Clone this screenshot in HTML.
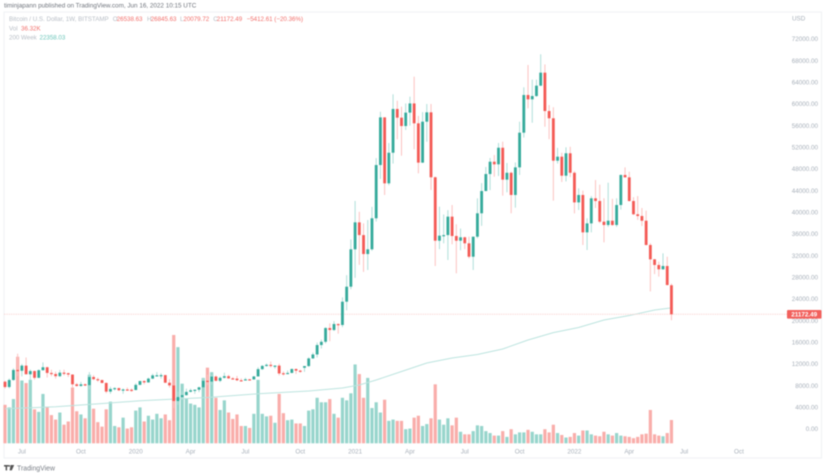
<!DOCTYPE html>
<html lang="en">
<head>
<meta charset="utf-8">
<title>BTC/USD weekly chart</title>
<style>
html,body{margin:0;padding:0;background:#fff;width:827px;height:474px;overflow:hidden}
svg{display:block;filter:blur(0.4px)}
text{font-family:"Liberation Sans",sans-serif}
.tick{font-size:6.3px;fill:#a8b0ba}
.lg{font-size:6.2px;fill:#b8bec6}
.rv{font-size:6.2px;fill:#f2706c}
</style>
</head>
<body>
<svg id="chart" width="827" height="474" viewBox="0 0 827 474" xmlns="http://www.w3.org/2000/svg">
  <rect x="4" y="12" width="817.5" height="446" fill="#fff" stroke="#f1f3f5" stroke-width="1.2"/>
  <g id="volumes"></g>
  <path id="sma" fill="none" stroke="#bce4df" stroke-width="1"/>
  <line id="lastLine" x1="4" x2="787" stroke="#fbd9d8" stroke-width="1" stroke-dasharray="1.5 0.8"/>
  <g id="candles"></g>
  <g id="priceAxis"></g>
  <g id="timeAxis"></g>
  <text class="tick" x="792" y="20.5">USD</text>
  <g>
    <rect id="lastTag" x="787" width="34.5" height="8.6" rx="1" fill="#f2605c"/>
    <text id="lastTagText" x="804.2" font-size="6.3" font-weight="bold" fill="#fff" text-anchor="middle"></text>
  </g>
  <text x="4" y="7.4" font-size="6.33" fill="#6f747c">timinjapann published on TradingView.com, Jun 16, 2022 10:15 UTC</text>
  <g>
    <text class="lg" x="9" y="20.8">Bitcoin / U.S. Dollar, 1W, BITSTAMP</text>
    <text class="lg" x="112.7" y="20.8">O</text><text class="rv" x="116.7" y="20.8">26538.63</text>
    <text class="lg" x="147" y="20.8">H</text><text class="rv" x="150.7" y="20.8">26845.63</text>
    <text class="lg" x="180" y="20.8">L</text><text class="rv" x="183.4" y="20.8">20079.72</text>
    <text class="lg" x="213.2" y="20.8">C</text><text class="rv" x="216.8" y="20.8">21172.49</text>
    <text class="rv" x="246.6" y="20.8">−5412.61 (−20.36%)</text>
    <text class="lg" x="9" y="30.5">Vol</text><text class="rv" x="21" y="30.5">36.32K</text>
    <text class="lg" x="9" y="39.5">200 Week</text><text x="39.5" y="39.5" font-size="6.2" fill="#6cc6ba">22358.03</text>
  </g>
  <g>
    <rect x="4" y="465" width="4.4" height="1.6" fill="#555"/>
    <rect x="5.6" y="465" width="1.5" height="5.4" fill="#555"/>
    <circle cx="9.2" cy="465.9" r="0.9" fill="#555"/>
    <polygon points="10.6,465 14.2,465 11.8,470.4 9.6,470.4" fill="#555"/>
    <text x="17" y="470.5" font-size="6.9" fill="#7a7f87">TradingView</text>
  </g>
</svg>
<script>
const opens=[8730,7750,9050,10900,10750,11700,10100,10700,9450,10850,11400,10350,10150,9750,10400,10300,10050,8250,7950,8250,8100,9600,9200,9030,8500,6900,7400,7550,7150,7300,7250,7200,8150,8850,8600,9300,9900,9920,9950,8540,8050,5170,5900,6250,6880,7150,7250,7700,8900,8750,9680,8900,9450,9750,9350,9300,9000,8990,9170,9150,9700,11050,11650,11850,11650,11700,10300,10220,10350,11070,10770,11300,11620,13030,13760,15500,16100,18640,18280,19380,19200,23500,26270,33170,38150,35800,32300,33170,38900,48730,57530,45350,51000,59080,57470,55930,58400,60100,56430,49170,56730,58460,46470,34760,35690,35800,39200,35630,34760,35390,34280,31800,35500,39820,43930,47070,49340,48860,51920,46030,47300,43200,48300,54700,61660,60860,61470,63380,65780,58700,57360,49530,50270,46760,50900,47300,41830,43200,36300,37960,42590,42090,38270,37660,38450,37660,41350,46890,46460,42090,39640,39320,38450,33970,31320,30280,29480,30090,26538.63];
const highs=[8900,9330,11200,13900,12000,13200,11000,10800,11000,12300,11500,10950,10600,10900,10950,10400,10100,8500,8700,8400,10500,9950,9500,9100,8600,7800,7700,7600,7500,7650,7500,8450,8900,9000,9500,10200,10500,10300,10000,9200,8200,6900,6950,7450,7450,7280,7800,9450,10050,9950,9900,9700,10400,10000,9580,9800,9350,9450,9250,9800,11400,11800,12100,12450,11750,12050,10650,10800,11180,11180,10950,11450,13250,14100,15960,16500,18800,19500,19900,19500,24300,28400,35000,42100,40100,37970,38580,41000,50000,58570,57530,52800,61790,60600,59500,60100,61350,65040,57800,58500,60000,60000,46600,41040,39600,40400,41350,37800,37000,35500,35500,35500,42580,45400,48370,50030,50580,52800,53040,49100,47500,49200,56730,63080,67200,64500,64500,69170,67300,59800,59400,51900,51000,52000,52100,47600,44430,44000,38900,43000,45960,45100,42600,45470,42500,42590,47000,48300,47500,42800,43000,40800,40300,34300,31400,30890,32430,31800,26845.63];
const lows=[7450,7500,8900,9800,9700,11000,9050,9100,9400,10800,9500,9750,9300,9600,9900,9600,7700,7800,7800,7900,7300,9000,8700,8450,6600,6500,7100,7000,6500,7100,6850,7150,8100,8250,8550,9200,9700,9300,8500,7650,3850,4450,5700,6150,6750,6500,6800,7600,8100,8150,8800,8650,9300,9250,9150,8850,8950,8950,9000,9100,9700,10900,11500,11350,11150,9900,9850,10150,10300,10150,10400,10550,11450,12950,13200,14850,15800,16200,18100,17600,18800,21900,25800,27900,30300,29000,29350,32900,38300,46150,43200,45000,49000,53480,50450,55200,56000,51630,47200,49100,53030,44120,30090,33200,34280,31200,34100,28740,33000,33200,31500,29350,35200,37500,43900,44100,46570,46700,43070,43700,39820,40860,46900,53800,59200,56540,61300,63300,55800,53500,42150,49000,45600,45700,46500,39800,40430,33970,33040,36300,40800,38000,34460,37300,37500,37300,40500,46400,42000,39500,38600,37470,33900,25400,28600,28130,29400,26500,20079.72];
const closes=[7750,9050,10900,10750,11700,10100,10700,9450,10850,11400,10350,10150,9750,10400,10300,10050,8250,7950,8250,8100,9600,9200,9030,8500,6900,7400,7550,7150,7300,7250,7200,8150,8850,8600,9300,9900,9920,9950,8540,8050,5170,5900,6250,6850,7150,7250,7700,8900,8750,9680,8900,9450,9750,9350,9300,9000,8990,9170,9150,9700,11050,11650,11850,11650,11700,10250,10220,10350,11070,10770,10630,11620,13030,13760,15500,16100,18640,18280,19380,19200,23500,26270,33170,38150,35800,32300,33170,38900,48730,57530,45350,51000,59080,57470,55930,58400,60100,56430,49170,56730,58460,46470,34760,35690,35800,39200,35630,34760,35390,34280,31800,35500,39820,43930,47070,49340,48860,51920,46030,47300,43200,48300,54700,61660,60860,61470,63380,65780,58700,57360,49530,50270,46760,50900,47300,41830,43200,36300,37960,42590,42090,38270,37660,38450,37660,41350,46890,46460,42090,39640,39320,38450,33970,31320,30280,29480,30090,26580,21172.49];
const volumes=[60,56,69,135,98,94,99,53,49,77,57,44,37,48,29,34,87,50,45,39,107,54,33,26,53,65,27,25,40,23,25,51,56,34,43,37,46,39,45,36,169,150,93,70,62,60,56,102,118,111,71,52,67,48,38,45,27,27,24,46,99,46,42,43,32,77,47,36,37,31,31,27,51,53,71,64,64,69,46,40,71,67,78,123,108,71,102,55,64,48,68,35,37,35,35,22,23,40,43,27,30,39,92,37,29,39,28,40,18,14,14,19,28,27,19,16,12,12,19,10,22,14,17,17,21,18,14,14,22,17,29,16,13,9,10,16,12,20,20,14,12,11,18,14,12,16,12,11,10,8,10,14,15,52,14,12,11,16,36.32];
const smaWeeks=[0,12,24,32,48,60,72,80,84,88,94,100,106,112,118,124,130,136,142,148,154,158];
const smaValues=[3750,4120,4740,5220,5820,6500,7020,7570,8120,9050,10620,12180,13100,13750,14770,16430,17800,18740,20120,20950,21970,22358];
const priceTicks=[72000,68000,64000,60000,56000,52000,48000,44000,40000,36000,32000,28000,24000,20000,16000,12000,8000,4000,0];
const timeLabels=["Jul","Oct","2020","Apr","Jul","Oct","2021","Apr","Jul","Oct","2022","Apr","Jul","Oct"];
const timeWeeks=[4,18,31,44,57,70,83,96,109,122,135,148,161,174];
const lastPrice=21172.49;

const NS='http://www.w3.org/2000/svg';
const xAxis=i=>5+i*4.218;
const yAxis=p=>429-p*0.005417;
const volY=v=>443.3-v/1.56;

function mk(tag,parent){
  const el=document.createElementNS(NS,tag);
  parent.appendChild(el);
  return el;
}

const volumeGroup=document.getElementById('volumes');
const candleGroup=document.getElementById('candles');
closes.forEach(function(c,i){
  const up=c>=opens[i];
  const x=xAxis(i);

  const bar=mk('rect',volumeGroup);
  
  
  bar.setAttribute('x',x-1.6);
  bar.setAttribute('width',3.2);
  bar.setAttribute('y',volY(volumes[i]));
  bar.setAttribute('height',443.3-volY(volumes[i]));
  bar.setAttribute('fill',up?'#97d5cc':'#f9adaa');

  const wick=mk('line',candleGroup);
  
  
  wick.setAttribute('x1',x);
  wick.setAttribute('x2',x);
  wick.setAttribute('y1',yAxis(highs[i]));
  wick.setAttribute('y2',yAxis(lows[i]));
  wick.setAttribute('stroke',up?'#afdfd9':'#fcc2c0');
  wick.setAttribute('stroke-width',1);

  const top=yAxis(Math.max(opens[i],c));
  const bottom=yAxis(Math.min(opens[i],c));
  const body=mk('rect',candleGroup);
  
  
  body.setAttribute('x',x-1.4);
  body.setAttribute('width',2.8);
  body.setAttribute('y',top);
  body.setAttribute('height',Math.max(bottom-top,1.2));
  body.setAttribute('fill',up?'#35aa9b':'#f45a55');
});

let smaPath='';
smaWeeks.forEach(function(w,i){
  smaPath+=(i?'L':'M')+xAxis(w).toFixed(1)+' '+yAxis(smaValues[i]).toFixed(1);
});
document.getElementById('sma').setAttribute('d',smaPath);

const priceAxis=document.getElementById('priceAxis');
priceTicks.forEach(function(p){
  const t=mk('text',priceAxis);
  
  
  t.setAttribute('class','tick');
  t.setAttribute('x',818);
  t.setAttribute('y',yAxis(p)+2.2);
  t.setAttribute('text-anchor','end');
  t.textContent=p.toFixed(2);
});

const timeAxis=document.getElementById('timeAxis');
timeLabels.forEach(function(label,i){
  const t=mk('text',timeAxis);
  
  
  t.setAttribute('class','tick');
  t.setAttribute('x',xAxis(timeWeeks[i]));
  t.setAttribute('y',453.4);
  t.setAttribute('text-anchor','middle');
  t.textContent=label;
});

const lastY=yAxis(lastPrice);
const lastLine=document.getElementById('lastLine');
lastLine.setAttribute('y1',lastY);
lastLine.setAttribute('y2',lastY);
document.getElementById('lastTag').setAttribute('y',lastY-4.3);
const tagText=document.getElementById('lastTagText');
tagText.setAttribute('y',lastY+2.2);
tagText.textContent=lastPrice.toFixed(2);
</script>
</body>
</html>
